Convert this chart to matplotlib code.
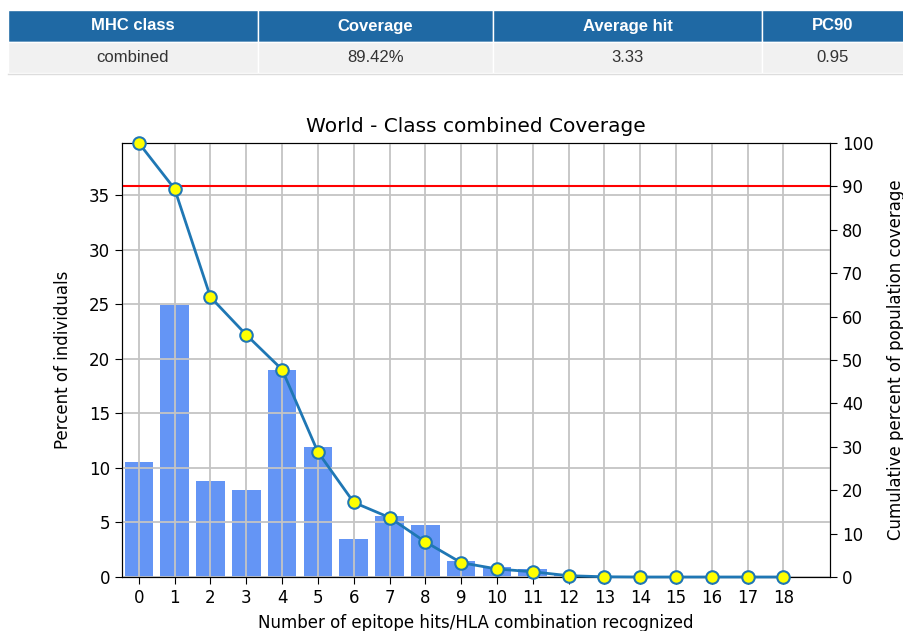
import numpy as np
import matplotlib.pyplot as plt
from matplotlib.patches import Rectangle

# summary table
table_headers = ["MHC class", "Coverage", "Average hit", "PC90"]
table_values = ["combined", "89.42%", "3.33", "0.95"]

# per-hit distribution
hits = list(range(19))
percent_individuals = [10.58, 24.9, 8.8, 8.0, 19.0, 11.9, 3.5, 5.6, 4.8, 1.45,
                       0.9, 0.7, 0.2, 0.05, 0.0, 0.0, 0.0, 0.0, 0.0]
cumulative_coverage = [100.0, 89.42, 64.5, 55.8, 47.8, 28.8, 17.2, 13.7, 8.1, 3.3,
                       1.85, 1.2, 0.3, 0.05, 0.0, 0.0, 0.0, 0.0, 0.0]
pc_threshold = 90

W, H = 904, 631
fig = plt.figure(figsize=(W / 100, H / 100), dpi=100)

# ---- table drawn in pixel coordinates
tab = fig.add_axes([0, 0, 1, 1], zorder=-1)
tab.set_xlim(0, W)
tab.set_ylim(H, 0)
tab.axis("off")
col_edges = [8, 258, 493, 762, 904]
for i in range(len(table_headers)):
    x0, x1 = col_edges[i], col_edges[i + 1]
    tab.add_patch(Rectangle((x0, 10), x1 - x0, 32, facecolor="#1f69a4", edgecolor="white", lw=1))
    tab.add_patch(Rectangle((x0, 42), x1 - x0, 31, facecolor="#f1f1f1", edgecolor="white", lw=1))
    cx = (x0 + x1) / 2
    tab.text(cx, 26, table_headers[i], ha="center", va="center", color="white",
             fontsize=12, fontweight="bold", family="Liberation Sans")
    tab.text(cx, 58, table_values[i], ha="center", va="center", color="#333333",
             fontsize=12, family="Liberation Sans")
tab.plot([8, 904], [73.5, 73.5], color="#dddddd", lw=1)

# ---- chart
ax = fig.add_axes([122 / W, 1 - 577 / H, (830 - 122) / W, (577 - 143) / H])
ax.bar(hits, percent_individuals, width=0.8, color="#6495f5", zorder=1)
ax.set_xlim(-0.47, 19.3)
ax.set_ylim(0, 39.8)
ax.set_xticks(hits)
ax.set_yticks(range(0, 36, 5))
ax.grid(True, color="#c4c4c4", lw=1.3, zorder=2)
ax.set_axisbelow(False)
ax.tick_params(labelsize=12, length=5)
ax.set_xlabel("Number of epitope hits/HLA combination recognized", fontsize=12, labelpad=5)
ax.set_ylabel("Percent of individuals", fontsize=12, labelpad=12)
ax.set_title("World - Class combined Coverage", fontsize=14.5, pad=8)

ax2 = ax.twinx()
ax2.axhline(pc_threshold, color="red", lw=1.5, zorder=1)
ax2.plot(hits, cumulative_coverage, color="#1f77b4", lw=2, marker="o",
         markersize=9, markerfacecolor="yellow", markeredgecolor="#1f77b4",
         markeredgewidth=1.5, clip_on=False, zorder=3)
ax2.set_ylim(0, 100)
ax2.set_yticks(range(0, 101, 10))
ax2.tick_params(labelsize=12, length=5)
ax2.set_ylabel("Cumulative percent of population coverage", fontsize=12, labelpad=10)

fig.savefig("out.png", dpi=100)
